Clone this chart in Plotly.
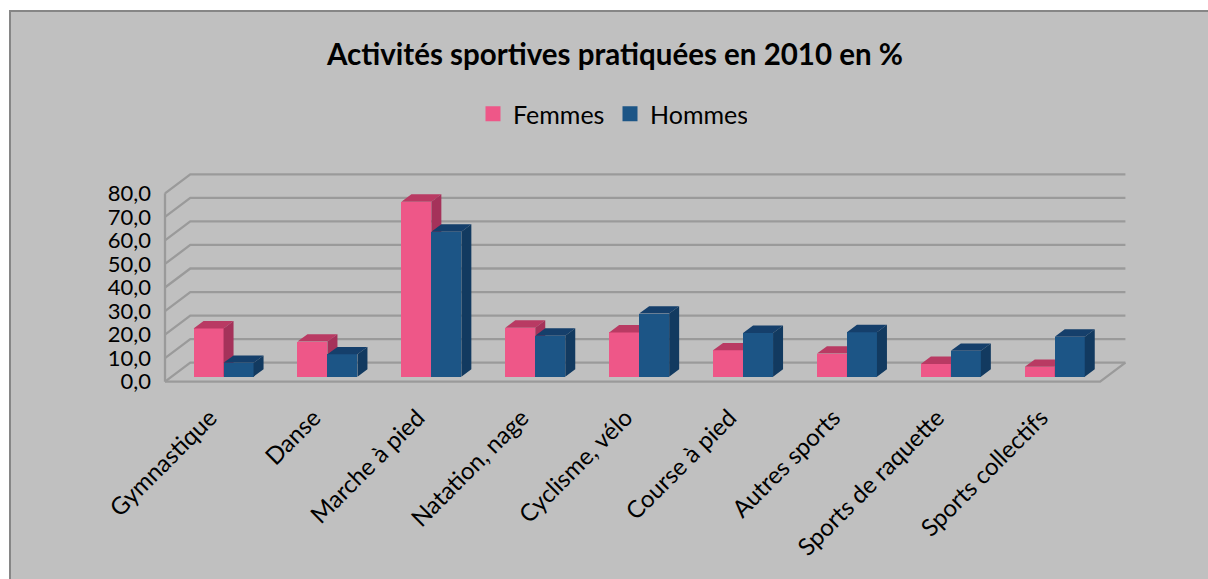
import plotly.graph_objects as go

categories = ["Gymnastique", "Danse", "Marche à pied", "Natation, nage", "Cyclisme, vélo",
              "Course à pied", "Autres sports", "Sports de raquette", "Sports collectifs"]
femmes = [20.5, 14.9, 74.3, 20.8, 18.8, 11.2, 9.8, 5.4, 4.2]
hommes = [5.9, 9.5, 61.6, 17.4, 26.8, 18.6, 18.9, 11.0, 17.0]
value_ticks = [0, 10, 20, 30, 40, 50, 60, 70, 80]

W, H = 1208, 579
L, R, T, B = 155, 1136, 164, 390
ORIGIN_X, ORIGIN_Y = 165, 381.7
PX_X = 103.9
PX_Y = 2.355
x_left = -0.5
x_right = 8.5
x_range = [x_left - (ORIGIN_X - L) / PX_X, x_left + (R - ORIGIN_X) / PX_X]
y_range = [-(B - ORIGIN_Y) / PX_Y, (ORIGIN_Y - T) / PX_Y]
shift_x = 6.6 / PX_X
shift_y = 5.0 / PX_Y
x_bar = [x_range[0] - shift_x, x_range[1] - shift_x]
y_bar = [y_range[0] - shift_y, y_range[1] - shift_y]
wall_dx = 25.3 / PX_X
wall_dy = 19.0 / PX_Y
bar_w = 30 / PX_X
box_dx = 10 / PX_X
box_dy = 7.4 / PX_Y
idx = list(range(len(categories)))

FONT = "Lato, Carlito, Calibri, sans-serif"
GRID = "#9a9a9a"
PINK, PINK_TOP, PINK_SIDE = "#ee5788", "#b93a63", "#a5325a"
BLUE, BLUE_TOP, BLUE_SIDE = "#1c5586", "#153f6b", "#123a60"


def polys(faces):
    xs, ys = [], []
    for f in faces:
        xs += [p[0] for p in f] + [f[0][0], None]
        ys += [p[1] for p in f] + [f[0][1], None]
    return xs, ys


fig = go.Figure()

# walls and floor, on the front-wall value scale
gx, gy = [], []
for v in value_ticks:
    gx += [x_left, x_left + wall_dx, x_right + wall_dx, None]
    gy += [v, v + wall_dy, v + wall_dy, None]
gx += [x_left, x_left, None, x_left, x_right, x_right + wall_dx]
gy += [0, 80, None, 0, 0, wall_dy]
fig.add_trace(go.Scatter(x=gx, y=gy, mode="lines", line=dict(color=GRID, width=2.3),
                         showlegend=False, hoverinfo="skip", xaxis="x", yaxis="y", cliponaxis=False))


def series(name, vals, offset, front, top, side, xa, ya):
    fig.add_trace(go.Bar(x=idx, y=vals, name=name, width=bar_w, offset=offset, showlegend=False,
                         marker=dict(color=front, line=dict(width=0)), xaxis=xa, yaxis=ya))
    tops, sides = [], []
    for i, v in zip(idx, vals):
        x0, x1 = i + offset, i + offset + bar_w
        tops.append([(x0, v), (x1, v), (x1 + box_dx, v + box_dy), (x0 + box_dx, v + box_dy)])
        sides.append([(x1, 0), (x1, v), (x1 + box_dx, v + box_dy), (x1 + box_dx, box_dy)])
    for faces, col in ((tops, top), (sides, side)):
        xs, ys = polys(faces)
        fig.add_trace(go.Scatter(x=xs, y=ys, mode="lines", fill="toself", fillcolor=col,
                                 line=dict(width=0, color=col), showlegend=False,
                                 hoverinfo="skip", xaxis=xa, yaxis=ya, cliponaxis=False))
    # legend key: a square the size of the reference's swatch
    fig.add_trace(go.Scatter(x=[None], y=[None], mode="markers", name=name,
                             marker=dict(symbol="square", size=15, color=front), xaxis=xa, yaxis=ya))


series("Femmes", femmes, -bar_w, PINK, PINK_TOP, PINK_SIDE, "x2", "y2")
series("Hommes", hommes, 0, BLUE, BLUE_TOP, BLUE_SIDE, "x3", "y3")

plot_w, plot_h = R - L, B - T
frame = dict(type="rect", xref="paper", yref="paper", layer="below",
             x0=(10 - L) / plot_w, x1=(1240 - L) / plot_w,
             y0=(B - 600) / plot_h, y1=(B - 11) / plot_h,
             fillcolor="#c0c0c0", line=dict(color="#868686", width=2))

hidden = dict(visible=False, showgrid=False, zeroline=False)
fig.update_layout(
    width=W, height=H,
    margin=dict(l=L, r=W - R, t=T, b=H - B, pad=0),
    paper_bgcolor="white", plot_bgcolor="rgba(0,0,0,0)",
    separators=", ",
    font=dict(family=FONT, color="black"),
    shapes=[frame],
    title=dict(text="<b>Activités sportives pratiquées en 2010 en %</b>", x=615 / W, xanchor="center",
               xref="container", y=1 - 55 / H, yanchor="middle", yref="container",
               font=dict(size=29.5, family=FONT, color="black")),
    legend=dict(orientation="h", x=(473 - L) / plot_w, xanchor="left",
                y=(B - 114) / plot_h, yanchor="middle", bgcolor="rgba(0,0,0,0)",
                entrywidth=92, entrywidthmode="pixels",
                font=dict(size=25, family=FONT, color="black"), traceorder="normal"),
    xaxis=dict(range=x_range, tickmode="array", tickvals=idx, ticktext=categories, tickangle=-45,
               showgrid=False, zeroline=False, showline=False, ticks="",
               ticklabelstandoff=8, ticklabelshift=-7,
               tickfont=dict(size=24, family=FONT, color="black")),
    yaxis=dict(range=y_range, tickmode="array", tickvals=value_ticks, tickformat=".1f",
               showgrid=False, zeroline=False, showline=False, ticks="", ticklabelstandoff=3,
               tickfont=dict(size=22, family=FONT, color="black")),
    xaxis2=dict(range=x_bar, overlaying="x", **hidden),
    yaxis2=dict(range=y_bar, overlaying="y", anchor="x2", **hidden),
    xaxis3=dict(range=x_bar, overlaying="x", **hidden),
    yaxis3=dict(range=y_bar, overlaying="y", anchor="x3", **hidden),
    bargap=0,
    hovermode=False,
)

fig.write_html("out.html", config={"displayModeBar": False},
               post_script="document.body.style.margin='0';document.body.style.overflow='hidden';")
